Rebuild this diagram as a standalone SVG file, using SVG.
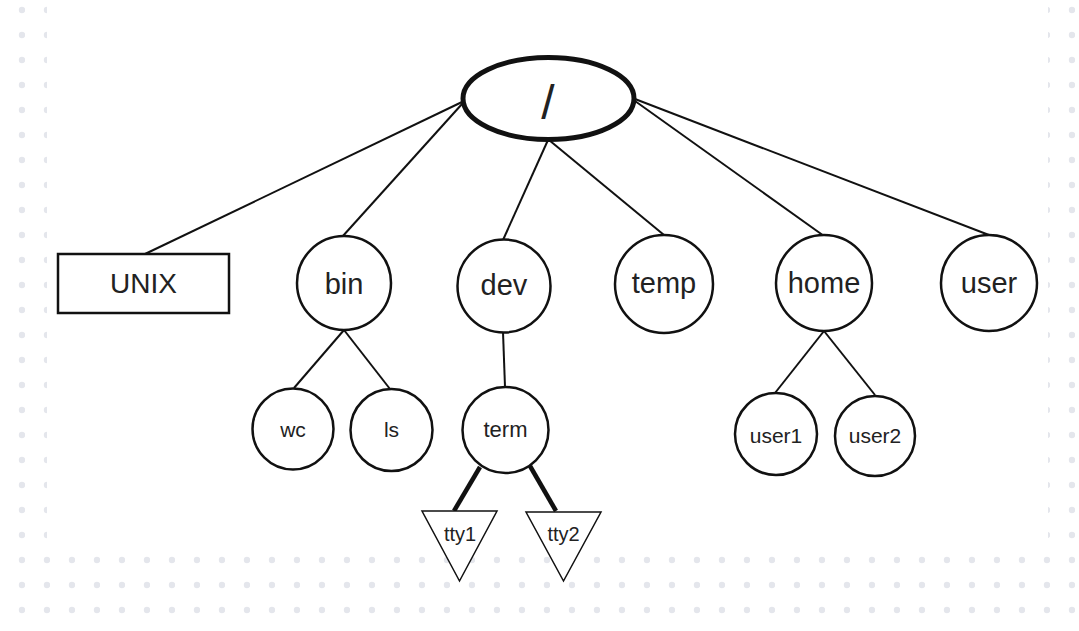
<svg xmlns="http://www.w3.org/2000/svg" width="1079" height="631" viewBox="0 0 1079 631">
<defs>
<pattern id="dots" patternUnits="userSpaceOnUse" width="25" height="25">
<circle cx="22" cy="10" r="3.2" fill="#e4e6ec"/>
</pattern>
<style>
.n{fill:#fff;stroke:#111;stroke-width:2.5}
.t{font-family:"Liberation Sans",Arial,sans-serif;fill:#222;text-anchor:middle}
.big{font-size:29px}
.sm{font-size:21px}
.c{stroke:#111;stroke-width:2;fill:none}
.ct{stroke:#111;stroke-width:4.5;fill:none}
</style>
</defs>
<rect x="0" y="0" width="1079" height="631" fill="#fff"/>
<rect x="0" y="0" width="1079" height="631" fill="url(#dots)"/>
<rect x="47" y="0" width="1001" height="547" fill="#fff"/>
<g id="connectors">
<line class="c" x1="462" y1="102" x2="145" y2="254"/>
<line class="c" x1="462" y1="104" x2="342" y2="237"/>
<line class="c" x1="548" y1="140" x2="503" y2="240"/>
<line class="c" x1="549" y1="140" x2="664" y2="235"/>
<line class="c" x1="635" y1="101" x2="824" y2="236"/>
<line class="c" x1="635" y1="99" x2="989" y2="235"/>
<line class="c" x1="344" y1="330" x2="294" y2="388"/>
<line class="c" x1="344" y1="330" x2="390" y2="389"/>
<line class="c" x1="503" y1="332" x2="505" y2="387"/>
<line class="c" x1="824" y1="331" x2="775" y2="393"/>
<line class="c" x1="824" y1="331" x2="875" y2="395"/>
<line class="ct" x1="480" y1="467" x2="454" y2="511"/>
<line class="ct" x1="530" y1="466" x2="556" y2="511"/>
</g>
<g id="root">
<ellipse cx="548.5" cy="98.5" rx="85.5" ry="41" fill="#fff" stroke="#111" stroke-width="5"/>
<text class="t" x="548" y="119" font-size="48">/</text>
</g>
<g id="unix">
<rect class="n" x="58" y="254" width="171" height="59" stroke-width="2"/>
<text class="t" x="143.5" y="293" font-size="28">UNIX</text>
</g>
<g id="bin">
<circle class="n" cx="344" cy="283" r="47"/>
<text class="t big" x="344" y="294">bin</text>
</g>
<g id="dev">
<circle class="n" cx="504" cy="286" r="46.5"/>
<text class="t big" x="504" y="295">dev</text>
</g>
<g id="temp">
<circle class="n" cx="664" cy="284" r="49"/>
<text class="t big" x="664" y="293">temp</text>
</g>
<g id="home">
<circle class="n" cx="824" cy="283" r="48"/>
<text class="t big" x="824" y="293">home</text>
</g>
<g id="user">
<circle class="n" cx="989" cy="283" r="48"/>
<text class="t big" x="989" y="293">user</text>
</g>
<g id="wc">
<circle class="n" cx="293" cy="429" r="40.5"/>
<text class="t sm" x="293" y="437">wc</text>
</g>
<g id="ls">
<circle class="n" cx="391.5" cy="430" r="41"/>
<text class="t sm" x="391.5" y="437">ls</text>
</g>
<g id="term">
<circle class="n" cx="505.5" cy="430" r="43"/>
<text class="t" x="505.5" y="437" font-size="22">term</text>
</g>
<g id="user1">
<circle class="n" cx="776" cy="434" r="41"/>
<text class="t sm" x="776" y="443">user1</text>
</g>
<g id="user2">
<circle class="n" cx="875" cy="436" r="40"/>
<text class="t sm" x="875" y="443">user2</text>
</g>
<g id="tty1">
<polygon points="422,511 497,511 459.5,581" fill="#fff" stroke="#111" stroke-width="1.5"/>
<text class="t" x="460" y="541" font-size="20">tty1</text>
</g>
<g id="tty2">
<polygon points="526,512 601,512 563.5,581" fill="#fff" stroke="#111" stroke-width="1.5"/>
<text class="t" x="563.5" y="541" font-size="20">tty2</text>
</g>
</svg>
